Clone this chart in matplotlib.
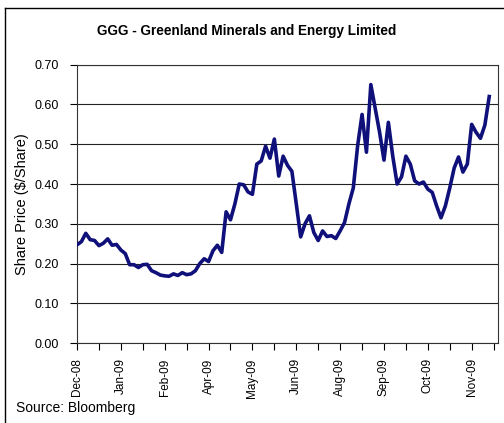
import matplotlib.pyplot as plt
from matplotlib.lines import Line2D

# Share price ($/share) (roughly weekly-ish steps)
prices = [
    0.247, 0.255, 0.276, 0.260, 0.258, 0.245, 0.251, 0.262, 0.246, 0.248,
    0.234, 0.225, 0.197, 0.197, 0.190, 0.197, 0.198, 0.182, 0.177, 0.171,
    0.169, 0.168, 0.174, 0.170, 0.177, 0.172, 0.174, 0.182, 0.200, 0.212,
    0.205, 0.232, 0.246, 0.228, 0.330, 0.310, 0.350, 0.400, 0.398, 0.380,
    0.374, 0.450, 0.458, 0.495, 0.465, 0.513, 0.420, 0.470, 0.447, 0.432,
    0.350, 0.267, 0.300, 0.320, 0.278, 0.258, 0.282, 0.268, 0.270, 0.263,
    0.282, 0.303, 0.350, 0.390, 0.497, 0.575, 0.480, 0.650, 0.590, 0.530,
    0.460, 0.555, 0.470, 0.400, 0.418, 0.470, 0.450, 0.408, 0.400, 0.405,
    0.387, 0.379, 0.345, 0.315, 0.345, 0.390, 0.440, 0.468, 0.430, 0.450,
    0.550, 0.530, 0.515, 0.548, 0.620,
]
month_labels = ["Dec-08", "Jan-09", "Feb-09", "Apr-09", "May-09",
                "Jun-09", "Aug-09", "Sep-09", "Oct-09", "Nov-09"]
label_step = 10
y_ticks = [0.0, 0.1, 0.2, 0.3, 0.4, 0.5, 0.6, 0.7]

plt.rcParams["font.family"] = ["Liberation Sans", "DejaVu Sans"]

fig = plt.figure(figsize=(5.04, 4.23), dpi=100)
ax = fig.add_axes([0.1528, 0.189, 0.8353, 0.658])

x = list(range(len(prices)))
ax.plot(x, prices, color="#10107a", linewidth=2.6, solid_joinstyle="round", zorder=3)

ax.set_xlim(0, len(prices) + 1)
ax.set_ylim(0, 0.7)
ax.set_yticks(y_ticks)
ax.set_yticklabels([f"{v:.2f}" for v in y_ticks], fontsize=9)
ax.set_xticks([i * label_step for i in range(len(month_labels))])
ax.set_xticklabels(month_labels, rotation=90, fontsize=8.5)
ax.set_xticks(range(0, len(prices) + 1, label_step // 2), minor=True)

ax.tick_params(axis="y", direction="out", length=5, width=0.8, pad=8)
ax.tick_params(axis="x", which="both", direction="out", length=5, width=0.8, pad=6)
ax.grid(axis="y", color="#222222", linewidth=0.8)
ax.set_axisbelow(True)
for s in ax.spines.values():
    s.set_color("#333333")
    s.set_linewidth(0.8)

ax.set_ylabel("Share Price ($/Share)", fontsize=10.5, labelpad=4)
fig.text(0.49, 0.927, "GGG - Greenland Minerals and Energy Limited",
         ha="center", va="center", fontsize=9.8, fontweight="bold")
fig.text(0.032, 0.035, "Source: Bloomberg", ha="left", va="center", fontsize=10)

# outer chart frame (cropped at right/bottom in the original)
fig.add_artist(Line2D([0.0099, 0.0099], [0, 0.981], color="black", linewidth=1))
fig.add_artist(Line2D([0.0099, 1], [0.981, 0.981], color="black", linewidth=1))

fig.savefig("out.png", dpi=100)
